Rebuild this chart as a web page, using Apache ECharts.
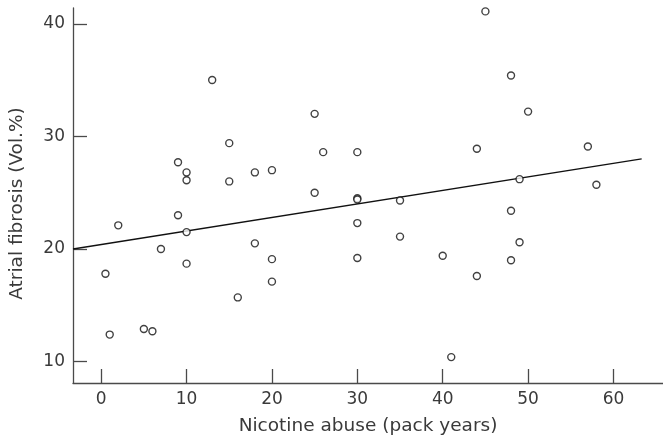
<!DOCTYPE html>
<html>
<head>
<meta charset="utf-8">
<script src="https://cdn.jsdelivr.net/npm/echarts@6/dist/echarts.min.js"></script>
<style>
html,body{margin:0;padding:0;background:#fff;}
#chart{width:663px;height:443px;}
</style>
</head>
<body>
<div id="chart"></div>
<script>
// Data
const packYears = [0.5, 1, 2, 5, 6, 7, 9, 9, 10, 10, 10, 10, 13, 15, 15, 16, 18, 18, 20, 20, 20, 25, 25, 26, 30, 30, 30, 30, 30, 35, 35, 40, 41, 44, 44, 45, 48, 48, 48, 49, 49, 50, 57, 58];
const fibrosis  = [17.8, 12.4, 22.1, 12.9, 12.7, 20.0, 27.7, 23.0, 26.8, 26.1, 21.5, 18.7, 35.0, 29.4, 26.0, 15.7, 26.8, 20.5, 27.0, 19.1, 17.1, 32.0, 25.0, 28.6, 28.6, 24.5, 24.4, 22.3, 19.2, 24.3, 21.1, 19.4, 10.4, 28.9, 17.6, 41.1, 35.4, 23.4, 19.0, 26.2, 20.6, 32.2, 29.1, 25.7];
const fitX = [-3.3, 63.3];
const fitY = [20.0, 28.0];
const xTicks = [0, 10, 20, 30, 40, 50, 60];
const yTicks = [10, 20, 30, 40];
const xTitle = 'Nicotine abuse (pack years)';
const yTitle = 'Atrial fibrosis (Vol.%)';

const points = packYears.map((x, i) => [x, fibrosis[i]]);
const fitLine = fitX.map((x, i) => [x, fitY[i]]);

const axisColor = '#4a4a4a';
const textColor = '#3a3a3a';
const font = 'DejaVu Sans';

const chart = echarts.init(document.getElementById('chart'), null, {renderer: 'canvas'});
chart.setOption({
  animation: false,
  backgroundColor: '#fff',
  grid: {left: 72, right: 0, top: 8, bottom: 60},
  xAxis: {
    type: 'value',
    min: -3.3, max: 65.8,
    name: xTitle,
    nameLocation: 'middle',
    nameGap: 34,
    nameTextStyle: {fontFamily: font, fontSize: 18.5, color: textColor},
    axisLine: {show: true, onZero: false, lineStyle: {color: axisColor, width: 1.3}},
    axisTick: {show: true, inside: true, length: 14, customValues: xTicks, lineStyle: {color: axisColor, width: 1.3}},
    axisLabel: {customValues: xTicks, fontFamily: font, fontSize: 17, color: textColor, margin: 8},
    splitLine: {show: false}
  },
  yAxis: {
    type: 'value',
    min: 8.1, max: 41.4,
    name: yTitle,
    nameLocation: 'middle',
    nameGap: 46,
    nameTextStyle: {fontFamily: font, fontSize: 18.5, color: textColor, padding: [0, 16, 0, 0]},
    axisLine: {show: true, onZero: false, lineStyle: {color: axisColor, width: 1.3}},
    axisTick: {show: true, inside: true, length: 14, customValues: yTicks, lineStyle: {color: axisColor, width: 1.3}},
    axisLabel: {customValues: yTicks, fontFamily: font, fontSize: 17, color: textColor, margin: 8},
    splitLine: {show: false}
  },
  series: [
    {
      type: 'line',
      data: fitLine,
      symbol: 'none',
      lineStyle: {color: '#111', width: 1.4},
      z: 1
    },
    {
      type: 'scatter',
      data: points,
      symbol: 'circle',
      symbolSize: 7,
      itemStyle: {color: '#fff', borderColor: '#111', borderWidth: 1.4},
      z: 2
    }
  ]
});
</script>
</body>
</html>
